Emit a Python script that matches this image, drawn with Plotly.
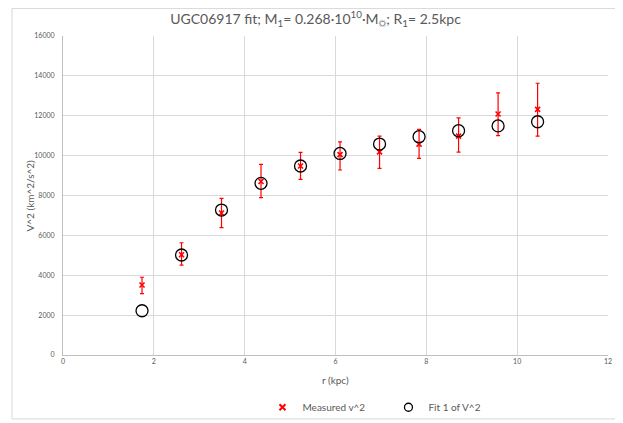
import plotly.graph_objects as go

# radius (kpc)
r_kpc = [1.74, 2.61, 3.49, 4.36, 5.23, 6.10, 6.97, 7.84, 8.71, 9.58, 10.45]

# measured v^2 and its error bars
v2_meas = [3510, 5030, 7120, 8700, 9480, 10050, 10190, 10580, 10980, 12090, 12320]
v2_err_plus = [390, 600, 740, 860, 680, 640, 790, 740, 910, 1060, 1310]
v2_err_minus = [435, 520, 730, 810, 670, 770, 830, 720, 800, 1090, 1340]

# fit 1
v2_fit = [2220, 5015, 7270, 8610, 9480, 10110, 10580, 10950, 11250, 11490, 11700]

font_fam = "Lato, Open Sans, sans-serif"
grey = "#595959"
red = "#ff0000"

fig = go.Figure()

fig.add_trace(go.Scatter(
    x=r_kpc, y=v2_meas, mode="markers", name="Measured v^2", showlegend=False,
    marker=dict(symbol="x-thin", size=5, color=red, line=dict(color=red, width=1.6)),
    error_y=dict(type="data", symmetric=False, array=v2_err_plus,
                 arrayminus=v2_err_minus, color=red, thickness=1.2, width=2),
))

fig.add_trace(go.Scatter(
    x=r_kpc, y=v2_fit, mode="markers", name="Fit 1 of V^2", showlegend=False,
    marker=dict(symbol="circle-open", size=12, color="black",
                line=dict(color="black", width=1.3)),
))

# legend entries with smaller symbols
fig.add_trace(go.Scatter(
    x=[None], y=[None], mode="markers", name="Measured v^2",
    marker=dict(symbol="x-thin", size=6, color=red, line=dict(color=red, width=2)),
))
fig.add_trace(go.Scatter(
    x=[None], y=[None], mode="markers", name="Fit 1 of V^2",
    marker=dict(symbol="circle-open", size=8, color="black",
                line=dict(color="black", width=1.3)),
))

# page body adds an 8px offset, so the figure is 8px smaller and margins shifted
fig.update_layout(
    width=615, height=415,
    margin=dict(l=55, r=15, t=28, b=68, autoexpand=False),
    paper_bgcolor="white", plot_bgcolor="white",
    font=dict(family=font_fam, color=grey),
    title=dict(
        text="UGC06917 fit; M<sub>1</sub>= 0.268·10<sup>10</sup>·M<sub>☼</sub>; R<sub>1</sub>= 2.5kpc",
        xref="container", x=0.5, xanchor="center",
        yref="container", y=0.974, yanchor="middle",
        font=dict(size=14, color=grey, family=font_fam),
    ),
    xaxis=dict(
        range=[0, 12], dtick=2, tick0=0, automargin=False,
        showgrid=True, gridcolor="#d9d9d9", gridwidth=1,
        zeroline=False, showline=True, linecolor="#bfbfbf",
        ticks="", tickfont=dict(size=7, color=grey),
    ),
    yaxis=dict(
        range=[0, 16000], dtick=2000, tick0=0, tickformat="d", automargin=False,
        showgrid=True, gridcolor="#d9d9d9", gridwidth=1,
        zeroline=False, showline=True, linecolor="#bfbfbf",
        ticks="outside", ticklen=6, tickcolor="rgba(0,0,0,0)",
        tickfont=dict(size=7, color=grey),
    ),
    annotations=[
        dict(text="r (kpc)", xref="paper", yref="paper", x=0.5, y=-0.0784,
             xanchor="center", yanchor="middle", showarrow=False,
             font=dict(size=10, color=grey)),
        dict(text="V^2 (km^2/s^2)", xref="paper", yref="paper", x=-0.0606, y=0.5,
             xanchor="center", yanchor="middle", showarrow=False, textangle=-90,
             font=dict(size=10, color=grey)),
    ],
    legend=dict(
        orientation="h", x=0.366, xanchor="left",
        yref="container", y=0.038, yanchor="middle",
        font=dict(size=10, color=grey), entrywidth=81, entrywidthmode="pixels",
        itemwidth=30, bgcolor="rgba(0,0,0,0)",
    ),
    shapes=[dict(
        type="rect", xref="paper", yref="paper",
        x0=-0.0936, x1=1.022, y0=-0.2006, y1=1.086,
        line=dict(color="#d9d9d9", width=1), fillcolor="rgba(0,0,0,0)",
        layer="below",
    )],
)

fig.write_html("out.html")
